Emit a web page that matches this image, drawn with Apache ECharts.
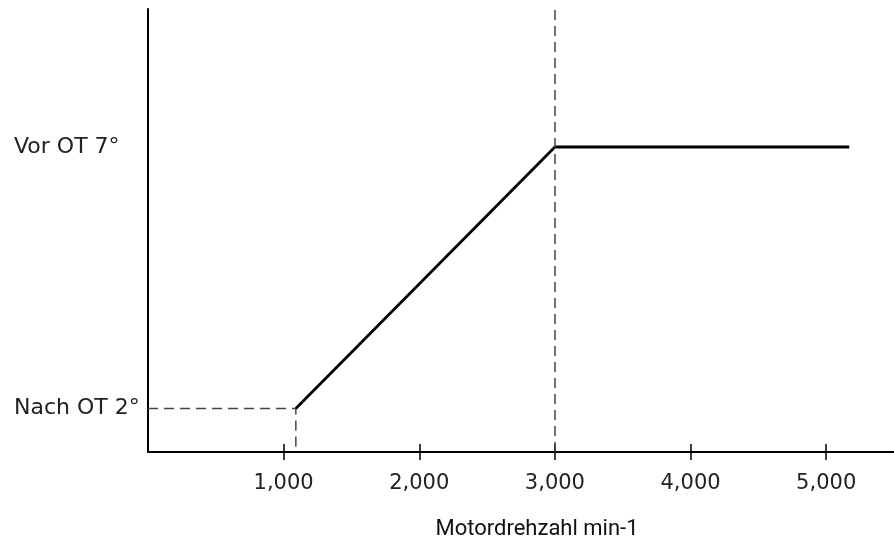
<!DOCTYPE html>
<html>
<head>
<meta charset="utf-8">
<script src="https://cdn.jsdelivr.net/npm/echarts@6/dist/echarts.min.js"></script>
<style>
  html, body { margin: 0; padding: 0; background: #fff; }
  #chart { width: 894px; height: 545px; }
</style>
</head>
<body>
<div id="chart"></div>
<script>
// Zündzeitpunkt (Grad) über Motordrehzahl
const rpm = [1090, 3000, 5170];
const timing = [-2, 7, 7];
const xTicks = [1000, 2000, 3000, 4000, 5000];
const yTicks = [-2, 7];
const yTickLabels = { '-2': 'Nach OT 2°', '7': 'Vor OT 7°' };
const xMin = 0, xMax = 5500;
const yMin = -3.5, yMax = 11.75;

const labelFont = '"DejaVu Sans", sans-serif';
const titleFont = 'Roboto, sans-serif';
const dashStyle = { color: '#444', width: 1.5, type: [10, 6] };

let chartDom = document.getElementById('chart');
let myChart = echarts.init(chartDom);

let lineData = rpm.map((x, i) => [x, timing[i]]);
// gestrichelte Hilfslinie zum Startpunkt
let guideData = [[xMin, timing[0]], [rpm[0], timing[0]], [rpm[0], yMin]];

let option = {
    animation: false,
    grid: { left: 148, right: 0, top: 9, bottom: 93 },
    xAxis: [
        {
            type: 'value',
            min: xMin,
            max: xMax,
            interval: 1000,
            name: 'Motordrehzahl min-1',
            nameLocation: 'middle',
            nameGap: 66,
            nameTextStyle: { fontFamily: titleFont, fontSize: 22, color: '#111', padding: [0, 0, 0, 32] },
            axisLine: { onZero: false, lineStyle: { color: '#000', width: 2 } },
            axisTick: { customValues: xTicks, length: 8, lineStyle: { color: '#000', width: 1.5 } },
            axisLabel: {
                customValues: xTicks,
                margin: 21,
                fontFamily: labelFont,
                fontSize: 21,
                color: '#222',
                formatter: v => v.toLocaleString('en-US')
            },
            splitLine: { show: false }
        },
        {
            type: 'value',
            min: xMin,
            max: xMax,
            position: 'bottom',
            axisLine: { show: false, onZero: false },
            axisTick: { customValues: xTicks, inside: true, length: 8, lineStyle: { color: '#000', width: 1.5 } },
            axisLabel: { show: false },
            splitLine: { show: false }
        }
    ],
    yAxis: {
        type: 'value',
        min: yMin,
        max: yMax,
        axisLine: { show: true, onZero: false, lineStyle: { color: '#000', width: 2 } },
        axisTick: { show: false },
        axisLabel: {
            customValues: yTicks,
            align: 'left',
            margin: 134,
            fontFamily: labelFont,
            fontSize: 22,
            color: '#222',
            formatter: v => yTickLabels[String(v)] || ''
        },
        splitLine: { show: false }
    },
    series: [
        {
            type: 'line',
            data: guideData,
            symbol: 'none',
            lineStyle: dashStyle,
            silent: true,
            z: 1
        },
        {
            type: 'line',
            data: lineData,
            symbol: 'none',
            lineStyle: { color: '#000', width: 2.8 },
            z: 3,
            markLine: {
                silent: true,
                symbol: 'none',
                label: { show: false },
                lineStyle: dashStyle,
                data: [{ xAxis: 3000 }]
            }
        }
    ]
};

option && myChart.setOption(option);
</script>
</body>
</html>
